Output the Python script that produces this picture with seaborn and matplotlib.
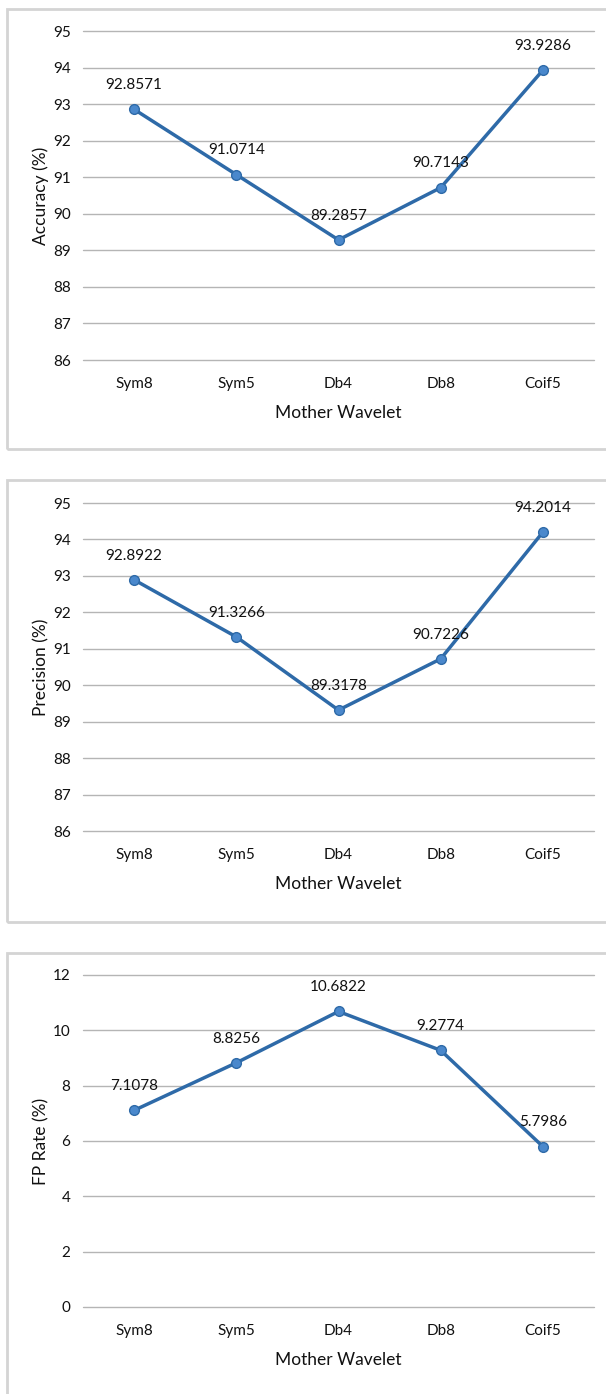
import matplotlib
matplotlib.use("Agg")
import matplotlib.pyplot as plt
from matplotlib.patches import Rectangle
import seaborn as sns
import pandas as pd

# Wavelet comparison data
wavelets = ["Sym8", "Sym5", "Db4", "Db8", "Coif5"]
accuracy = [92.8571, 91.0714, 89.2857, 90.7143, 93.9286]
precision = [92.8922, 91.3266, 89.3178, 90.7226, 94.2014]
fp_rate = [7.1078, 8.8256, 10.6822, 9.2774, 5.7986]

acc_ticks = [86, 87, 88, 89, 90, 91, 92, 93, 94, 95]
prec_ticks = [86, 87, 88, 89, 90, 91, 92, 93, 94, 95]
fp_ticks = [0, 2, 4, 6, 8, 10, 12]

sns.set_theme(style="white")
plt.rcParams["font.family"] = ["Liberation Sans Narrow", "Lato", "DejaVu Sans"]
plt.rcParams["text.color"] = "#111111"

W, H = 606, 1394
fig = plt.figure(figsize=(W / 100, H / 100), dpi=100)

LINE = "#2e6aa8"
FACE = "#4a88cc"
GRID = "#b5b5b5"
FRAME = "#d4d4d4"
TXT = "#111111"
FS = 11

# (ylabel, values, ticks, top_px, bottom_px, frame_top, frame_bottom)
panels = [
    ("Accuracy (%)", accuracy, acc_ticks, 31, 360, 9, 449),
    ("Precision (%)", precision, prec_ticks, 503, 831, 480, 922),
    ("FP Rate (%)", fp_rate, fp_ticks, 975, 1307, 953, 1420),
]

x0, x1 = 83, 594
for ylabel, vals, ticks, top, bot, ftop, fbot in panels:
    # light gray frame around each chart
    fig.patches.append(Rectangle((7 / W, 1 - fbot / H), (W + 20 - 7) / W, (fbot - ftop) / H,
                                 transform=fig.transFigure, fill=False,
                                 edgecolor=FRAME, linewidth=2, zorder=0))
    ax = fig.add_axes([x0 / W, 1 - bot / H, (x1 - x0) / W, (bot - top) / H])
    df = pd.DataFrame({"Mother Wavelet": wavelets, ylabel: vals})
    sns.lineplot(data=df, x="Mother Wavelet", y=ylabel, ax=ax, color=LINE,
                 linewidth=2.5, marker="o", markersize=7,
                 markerfacecolor=FACE, markeredgecolor=LINE, markeredgewidth=1,
                 sort=False, zorder=3)
    ax.set_xlim(-0.5, len(wavelets) - 0.5)
    ax.set_ylim(ticks[0], ticks[-1])
    ax.set_yticks(ticks)
    ax.set_yticklabels([str(t) for t in ticks])
    ax.set_xticks(range(len(wavelets)))
    ax.set_xticklabels(wavelets)
    ax.grid(axis="y", color=GRID, linewidth=1)
    ax.grid(axis="x", visible=False)
    for gl in ax.get_ygridlines():
        gl.set_clip_on(False)
    for s in ax.spines.values():
        s.set_visible(False)
    ax.tick_params(axis="y", length=0, pad=9, labelsize=FS, labelcolor=TXT)
    ax.tick_params(axis="x", length=0, pad=12, labelsize=FS, labelcolor=TXT)
    ax.set_xlabel("Mother Wavelet", fontsize=12.5, color=TXT)
    ax.set_ylabel(ylabel, fontsize=12.5, color=TXT)
    hpx = bot - top
    ax.xaxis.set_label_coords(0.5, -53 / hpx)
    ax.xaxis.label.set_verticalalignment("center")
    ax.yaxis.set_label_coords(-42 / (x1 - x0), 0.5)
    ax.yaxis.label.set_verticalalignment("center")
    for i, v in enumerate(vals):
        ax.annotate(str(v), (i, v), xytext=(0, 17.5), textcoords="offset points",
                    ha="center", va="center", fontsize=FS, color=TXT, zorder=4)

fig.savefig("out.png", dpi=100, facecolor="white")
